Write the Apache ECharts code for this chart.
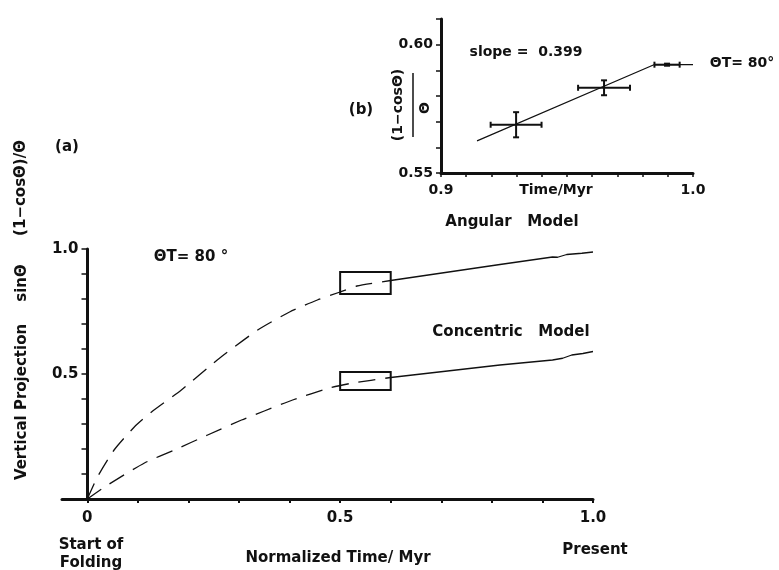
<!DOCTYPE html>
<html><head><meta charset="utf-8">
<script src="https://cdn.jsdelivr.net/npm/echarts@6/dist/echarts.min.js"></script>
<style>html,body{margin:0;padding:0;background:#fff}#c{width:779px;height:570px}</style>
</head><body><div id="c"></div>
<script>
// ---- data: main panel (a) ----
const mainXTickValues = [0, 0.1, 0.2, 0.3, 0.4, 0.5, 0.6, 0.7, 0.8, 0.9, 1.0];
const mainXLabelValues = [0, 0.5, 1.0];
const mainYLabelValues = [0.5, 1.0];
const angularDashed = [[0,0],[0.02,0.088],[0.053,0.196],[0.093,0.288],[0.127,0.348],[0.186,0.436],[0.257,0.556],[0.337,0.676],[0.4,0.748],[0.455,0.796],[0.5,0.828],[0.533,0.852],[0.6,0.874]];
const angularSolid = [[0.6,0.874],[0.816,0.938],[0.92,0.968],[0.93,0.967],[0.948,0.978],[0.978,0.983],[1.0,0.988]];
const concentricDashed = [[0,0],[0.034,0.048],[0.113,0.144],[0.172,0.196],[0.238,0.256],[0.305,0.316],[0.35,0.352],[0.406,0.396],[0.479,0.444],[0.525,0.464],[0.6,0.486]];
const concentricSolid = [[0.6,0.486],[0.816,0.536],[0.92,0.556],[0.94,0.563],[0.958,0.576],[0.98,0.582],[1.0,0.59]];
const angularBox = [[0.5, 0.82], [0.6, 0.908]];
const concentricBox = [[0.5, 0.436], [0.6, 0.508]];
// ---- data: inset panel (b) ----
const insetX = [0.9298, 0.9647, 0.9897];
const insetY = [0.5688, 0.5832, 0.5922];
const insetXErr = [0.0101, 0.0103, 0.005];
const insetYErr = [0.0049, 0.0029, 0.0004];
const insetFit = [[0.9143,0.5625],[0.9845,0.5922],[1.0,0.5922]];

const FONT = '"DejaVu Sans", sans-serif';
const INK = '#111';
const near = (a, b) => Math.abs(a - b) < 1e-6;

const chart = echarts.init(document.getElementById('c'), null, {renderer: 'canvas'});

function txt(text, x, y, size, rot) {
  return {type: 'text', x: x, y: y, rotation: rot || 0,
    style: {text: text, fill: INK, font: 'bold ' + size + 'px ' + FONT, align: 'center', verticalAlign: 'middle'}};
}

const insetErr = insetX.map((x, i) => [x, insetY[i], insetXErr[i], insetYErr[i]]);

chart.setOption({
  backgroundColor: '#fff',
  animation: false,
  grid: [
    {left: 62, right: 186, top: 249, bottom: 71},
    {left: 441, right: 86, top: 19, bottom: 397}
  ],
  xAxis: [
    {type: 'value', gridIndex: 0, min: -0.05, max: 1.0,
     splitLine: {show: false},
     axisLine: {show: true, onZero: false, lineStyle: {color: INK, width: 3}},
     axisTick: {show: true, customValues: mainXTickValues, length: 4, lineStyle: {color: INK, width: 2}},
     axisLabel: {customValues: mainXLabelValues, margin: 12, color: INK, fontFamily: FONT, fontWeight: 'bold', fontSize: 15,
       formatter: v => near(v, 0) ? '0' : v.toFixed(1)}},
    {type: 'value', gridIndex: 1, min: 0.9, max: 1.0, interval: 0.01,
     splitLine: {show: false},
     axisLine: {show: true, onZero: false, lineStyle: {color: INK, width: 3}},
     axisTick: {show: true, length: 4, lineStyle: {color: INK, width: 1.5}},
     axisLabel: {margin: 10, color: INK, fontFamily: FONT, fontWeight: 'bold', fontSize: 14,
       formatter: v => (near(v, 0.9) || near(v, 1.0)) ? v.toFixed(1) : ''}}
  ],
  yAxis: [
    {type: 'value', gridIndex: 0, min: 0, max: 1.0, interval: 0.1, position: 'left', offset: -25.5,
     splitLine: {show: false},
     axisLine: {show: true, onZero: false, lineStyle: {color: INK, width: 3}},
     axisTick: {show: true, length: 6, lineStyle: {color: INK, width: 1.5}},
     axisLabel: {margin: 9, color: INK, fontFamily: FONT, fontWeight: 'bold', fontSize: 15,
       formatter: v => mainYLabelValues.some(m => near(m, v)) ? v.toFixed(1) : ''}},
    {type: 'value', gridIndex: 1, min: 0.55, max: 0.61, interval: 0.01,
     splitLine: {show: false},
     axisLine: {show: true, onZero: false, lineStyle: {color: INK, width: 3}},
     axisTick: {show: true, length: 5, lineStyle: {color: INK, width: 1.5}},
     axisLabel: {margin: 8, color: INK, fontFamily: FONT, fontWeight: 'bold', fontSize: 14,
       formatter: v => (near(v, 0.55) || near(v, 0.60)) ? v.toFixed(2) : ''}}
  ],
  series: [
    {type: 'line', xAxisIndex: 0, yAxisIndex: 0, data: angularDashed, symbol: 'none', smooth: 0.2,
     lineStyle: {color: INK, width: 1.3, type: [17, 10]}},
    {type: 'line', xAxisIndex: 0, yAxisIndex: 0, data: angularSolid, symbol: 'none',
     lineStyle: {color: INK, width: 1.3},
     markArea: {silent: true, itemStyle: {color: 'rgba(0,0,0,0)', borderColor: INK, borderWidth: 2},
       data: [[{xAxis: angularBox[0][0], yAxis: angularBox[0][1]}, {xAxis: angularBox[1][0], yAxis: angularBox[1][1]}]]}},
    {type: 'line', xAxisIndex: 0, yAxisIndex: 0, data: concentricDashed, symbol: 'none', smooth: 0.2,
     lineStyle: {color: INK, width: 1.3, type: [17, 10]}},
    {type: 'line', xAxisIndex: 0, yAxisIndex: 0, data: concentricSolid, symbol: 'none',
     lineStyle: {color: INK, width: 1.3},
     markArea: {silent: true, itemStyle: {color: 'rgba(0,0,0,0)', borderColor: INK, borderWidth: 2},
       data: [[{xAxis: concentricBox[0][0], yAxis: concentricBox[0][1]}, {xAxis: concentricBox[1][0], yAxis: concentricBox[1][1]}]]}},
    {type: 'line', xAxisIndex: 1, yAxisIndex: 1, data: insetFit, symbol: 'none',
     lineStyle: {color: INK, width: 1.2}},
    {type: 'custom', xAxisIndex: 1, yAxisIndex: 1, data: insetErr,
     renderItem: function (params, api) {
       const x = api.value(0), y = api.value(1), dx = api.value(2), dy = api.value(3);
       const L = api.coord([x - dx, y]), R = api.coord([x + dx, y]);
       const T = api.coord([x, y + dy]), B = api.coord([x, y - dy]);
       const st = {stroke: INK, lineWidth: 2};
       const cap = 3;
       const ch = [
         {type: 'line', shape: {x1: L[0], y1: L[1], x2: R[0], y2: R[1]}, style: st},
         {type: 'line', shape: {x1: L[0], y1: L[1] - cap, x2: L[0], y2: L[1] + cap}, style: st},
         {type: 'line', shape: {x1: R[0], y1: R[1] - cap, x2: R[0], y2: R[1] + cap}, style: st}
       ];
       if (T[1] - B[1] < -2) {
         ch.push({type: 'line', shape: {x1: T[0], y1: T[1], x2: B[0], y2: B[1]}, style: st});
         ch.push({type: 'line', shape: {x1: T[0] - cap, y1: T[1], x2: T[0] + cap, y2: T[1]}, style: st});
         ch.push({type: 'line', shape: {x1: B[0] - cap, y1: B[1], x2: B[0] + cap, y2: B[1]}, style: st});
       }
       return {type: 'group', children: ch};
     }}
  ],
  graphic: [
    txt('Vertical Projection', 22, 402, 15, Math.PI / 2),
    txt('sinΘ', 22, 283, 15, Math.PI / 2),
    txt('(1−cosΘ)/Θ', 21, 188, 15, Math.PI / 2),
    txt('(a)', 67, 147, 15),
    txt('ΘT= 80 °', 191, 257, 15),
    txt('Angular   Model', 512, 222, 15),
    txt('Concentric   Model', 511, 332, 15),
    txt('Start of', 91, 545, 15),
    txt('Folding', 91, 563, 15),
    txt('Normalized Time/ Myr', 338, 558, 15),
    txt('Present', 595, 550, 15),
    txt('(b)', 361, 110, 15),
    txt('(1−cosΘ)', 398, 105, 14, Math.PI / 2),
    {type: 'line', shape: {x1: 413, y1: 73, x2: 413, y2: 137}, style: {stroke: INK, lineWidth: 1.5}},
    txt('Θ', 425, 108, 14, Math.PI / 2),
    txt('slope =  0.399', 526, 52, 14),
    txt('Time/Myr', 556, 190, 14),
    txt('ΘT= 80°', 742, 63, 14)
  ]
});
</script></body></html>
